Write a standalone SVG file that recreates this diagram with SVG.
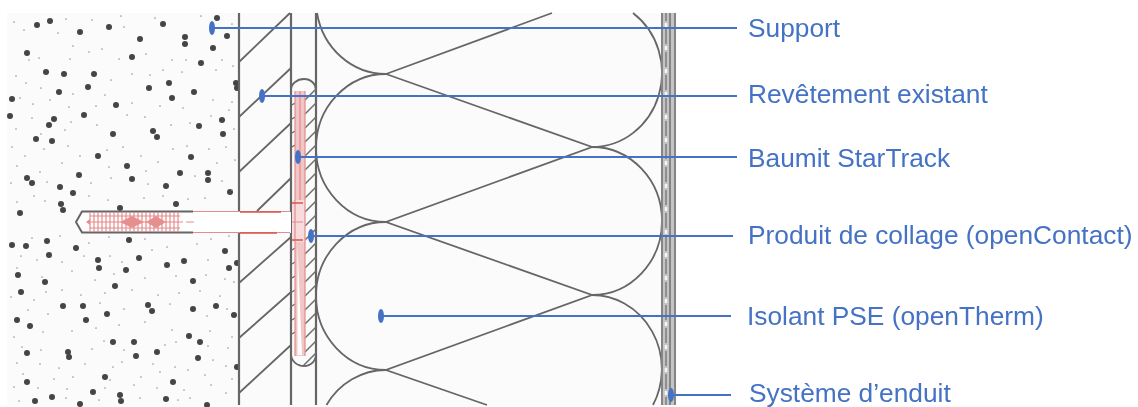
<svg xmlns="http://www.w3.org/2000/svg" width="1138" height="407" viewBox="0 0 1138 407">
<style>
.w{fill:none;stroke:#666;stroke-width:2.200}
.t{fill:none;stroke:#666;stroke-width:1.800}
.h{fill:none;stroke:#6e6e6e;stroke-width:1.500}
.r{fill:none;stroke:#e58c8c;stroke-width:1.200}
.c{fill:none;stroke:#4472c4;stroke-width:2}
.e{fill:#4472c4}
.l{font:26.300px "Liberation Sans",Arial,sans-serif;fill:#4472c4}
.big{fill:none;stroke:#444;stroke-width:6;stroke-linecap:round}
.small{fill:none;stroke:#999;stroke-width:1.700;stroke-linecap:round}
</style>
<defs><filter id="b" x="-5%" y="-5%" width="110%" height="110%"><feGaussianBlur stdDeviation="0.550"/></filter></defs>
<rect width="1138" height="407" fill="#fff"/>
<rect x="7" y="13" width="670" height="392" fill="#fbfbfb"/>
<g filter="url(#b)">
<g id="support">
<path class="big" d="M37 25h0M50 21h0M80 32h0M109 27h0M163 24h0M185 37h0M185 44h0M217 18h0M227 36h0M140 39h0M213 48h0M27 53h0M132 57h0M201 63h0M46 72h0M64 74h0M94 74h0M59 92h0M88 87h0M149 88h0M169 83h0M194 92h0M236 83h0M237 88h0M12 99h0M172 98h0M116 105h0M10 116h0M84 115h0M54 119h0M49 125h0M222 120h0M199 126h0M153 131h0M157 137h0M113 134h0M223 134h0M36 139h0M52 141h0M98 156h0M191 157h0M127 166h0M27 178h0M32 183h0M79 175h0M132 179h0M180 173h0M208 173h0M208 180h0M60 187h0M166 186h0M73 193h0M230 192h0M61 204h0M176 204h0M120 208h0M20 213h0M63 210h0M47 241h0M26 246h0M76 248h0M129 240h0M49 255h0M12 245h0M98 260h0M99 268h0M139 258h0M184 261h0M167 265h0M225 251h0M237 263h0M126 270h0M18 275h0M45 282h0M193 281h0M115 286h0M21 292h0M229 268h0M216 306h0M63 306h0M83 306h0M148 305h0M152 311h0M193 309h0M107 314h0M86 320h0M234 315h0M17 320h0M30 326h0M189 336h0M200 342h0M134 342h0M68 352h0M27 353h0M69 357h0M136 356h0M157 352h0M198 358h0M113 342h0M237 367h0M105 377h0M27 382h0M173 382h0M93 392h0M120 395h0M121 401h0M52 397h0M35 401h0M166 399h0M80 404h0M207 405h0"/>
<path class="small" d="M14 22h0M24 30h0M66 19h0M92 20h0M121 16h0M155 18h0M201 16h0M232 24h0M58 33h0M73 46h0M102 49h0M124 27h0M146 54h0M172 60h0M211 33h0M29 60h0M16 76h0M39 58h0M70 59h0M89 52h0M119 59h0M163 70h0M186 60h0M222 60h0M233 66h0M26 83h0M41 88h0M73 94h0M111 80h0M132 74h0M150 75h0M182 72h0M216 70h0M20 98h0M33 104h0M50 100h0M69 107h0M96 106h0M105 95h0M132 103h0M160 106h0M183 108h0M213 100h0M232 102h0M16 129h0M32 118h0M41 134h0M65 130h0M71 122h0M97 125h0M127 115h0M145 117h0M171 125h0M190 123h0M211 116h0M229 110h0M234 129h0M12 147h0M25 156h0M44 149h0M68 146h0M80 156h0M107 150h0M123 147h0M141 156h0M173 149h0M187 146h0M209 149h0M226 147h0M17 166h0M40 172h0M62 163h0M109 167h0M146 171h0M158 162h0M217 163h0M235 160h0M11 183h0M47 182h0M91 183h0M111 178h0M148 184h0M195 176h0M222 181h0M232 190h0M34 196h0M45 201h0M89 196h0M108 200h0M144 198h0M163 196h0M188 199h0M205 198h0M17 202h0M32 238h0M60 236h0M89 243h0M109 237h0M145 239h0M167 247h0M197 244h0M211 239h0M229 236h0M21 256h0M37 260h0M62 262h0M84 256h0M110 256h0M122 262h0M152 250h0M208 260h0M17 268h0M42 277h0M72 271h0M95 280h0M114 274h0M145 278h0M176 276h0M206 275h0M225 279h0M234 282h0M11 297h0M34 300h0M46 292h0M62 290h0M81 295h0M105 293h0M132 290h0M158 295h0M179 293h0M200 291h0M220 296h0M28 310h0M48 314h0M100 303h0M124 309h0M170 304h0M207 316h0M227 309h0M14 337h0M43 332h0M72 331h0M96 328h0M119 325h0M145 322h0M172 330h0M210 331h0M232 337h0M22 347h0M41 350h0M92 349h0M104 341h0M124 350h0M165 345h0M176 342h0M208 346h0M228 348h0M17 363h0M40 364h0M59 368h0M85 364h0M113 367h0M122 362h0M153 364h0M175 367h0M213 360h0M226 366h0M23 374h0M54 379h0M73 377h0M110 380h0M141 377h0M160 372h0M188 370h0M205 375h0M232 379h0M14 387h0M38 388h0M67 389h0M105 388h0M134 385h0M157 388h0M184 390h0M211 385h0M226 393h0M19 401h0M66 398h0M99 400h0M140 398h0M178 400h0M190 398h0"/>
<path class="w" d="M239 13V405"/>
</g>
<g id="revetement">
<path class="w" d="M291 13V405M316 13V405"/>
<path class="t" d="M239 62L290 13M239 117L291 68M239 172L291 123M257 211L291 178M239 283L291 237M239 338L291 292M239 393L291 345"/>
</g>
<g id="isolant">
<path class="t" d="M317 13A70 74 0 0 0 386 74A70 74 0 0 0 386 222A70 74 0 0 0 386 370A70 74 0 0 0 326.500 405"/>
<path class="t" d="M633 13A70 74 0 0 1 592 147A70 74 0 0 1 592 295A70 74 0 0 1 653 405"/>
<path class="t" d="M386 74L552 13M386 74L592 147L386 222L592 295L386 370L487 405"/>
</g>
<g id="collage">
<path d="M291 90C291 84 297 79 304 79C311 79 316 84 316 90V354C316 361 311 366 304 366C297 366 291 361 291 354Z" fill="#fbfbfb" class="t"/>
<path class="h" d="M305 100L316 89M305 114L316 103M305 128L316 117M305 142L316 131M305 156L316 145M305 170L316 159M305 184L316 173M305 198L316 187M305 212L316 201M305 226L316 215M305 240L316 229M305 254L316 243M305 268L316 257M305 282L316 271M305 296L316 285M305 310L316 299M305 324L316 313M305 338L316 327M305 352L316 341M303 366L316 353"/>
<path class="h" d="M292 105l3-2M292 119l3-2M292 133l3-2M292 147l3-2M292 250l3-2M292 264l3-2M292 278l3-2M292 292l3-2M292 306l3-2M292 320l3-2M292 334l3-2"/>
</g>
<g id="startrack">
<rect x="295" y="91" width="10" height="265" fill="#f0c6c6"/>
<path d="M297.500 245L302 355H297.500Z" fill="#fff"/>
<path d="M292 200H305V242H292Z" fill="#f6dcdc"/>
<path class="r" d="M295 91V356M305 91V356M300 91V200"/>
<path fill="#fff" d="M82 212H291V233H82L76 222Z"/>
<path fill="none" stroke="#666" stroke-width="2" d="M193 211.500H82L76 222L82 232.500H193"/>
<path class="r" d="M193 211.500H290M193 232.500H290"/>
<path fill="none" stroke="#d9534f" stroke-width="1.800" d="M240 212H281M240 233H277M292 203H303M292 240H303" opacity=".75"/>
<path class="r" d="M90 212V232M94 212V232M98 212V232M102 212V232M106 212V232M110 212V232M114 212V232M118 212V232M122 212V232M126 212V232M130 212V232M134 212V232M138 212V232M142 212V232M146 212V232M150 212V232M154 212V232M158 212V232M162 212V232M166 212V232M170 212V232M174 212V232M178 212V232M90 216H180M90 222H183M90 228H180M186 222h8M292 222h11"/>
<path d="M86 222l4-3v6ZM120 222l12-6 12 6-12 6ZM146 222l10-6 10 6-10 6Z" fill="#e68f8f"/>
</g>
<g id="enduit">
<rect x="661" y="13" width="15" height="392" fill="#c4c4c4"/>
<path d="M662 13V405M670 13V405M675 13V405" fill="none" stroke="#858585" stroke-width="2"/>
<path d="M666 13V405" fill="none" stroke="#f5f5f5" stroke-width="2.500" stroke-dasharray="4 19" stroke-dashoffset="-10"/>
<path d="M666 13V405" fill="none" stroke="#7d7d7d" stroke-width="1.500" stroke-dasharray="15 8" stroke-dashoffset="-16"/>
</g>
<g id="connectors">
<path class="c" d="M212 28H737M262 96H737M298 157H737M311 236H733M381 316H731M671 395H731"/>
<ellipse class="e" cx="212" cy="28" rx="3" ry="7"/>
<ellipse class="e" cx="262" cy="96" rx="3" ry="7"/>
<ellipse class="e" cx="298" cy="157" rx="3" ry="7"/>
<ellipse class="e" cx="311" cy="236" rx="3" ry="7"/>
<ellipse class="e" cx="381" cy="316" rx="3" ry="7"/>
<ellipse class="e" cx="671" cy="395" rx="3" ry="7"/>
</g>
<g id="labels">
<text class="l" x="748" y="37">Support</text>
<text class="l" x="748" y="103">Revêtement existant</text>
<text class="l" x="748" y="167">Baumit StarTrack</text>
<text class="l" x="748" y="244">Produit de collage (openContact)</text>
<text class="l" x="747" y="325">Isolant PSE (openTherm)</text>
<text class="l" x="749" y="402">Système d’enduit</text>
</g>
</g>
</svg>
